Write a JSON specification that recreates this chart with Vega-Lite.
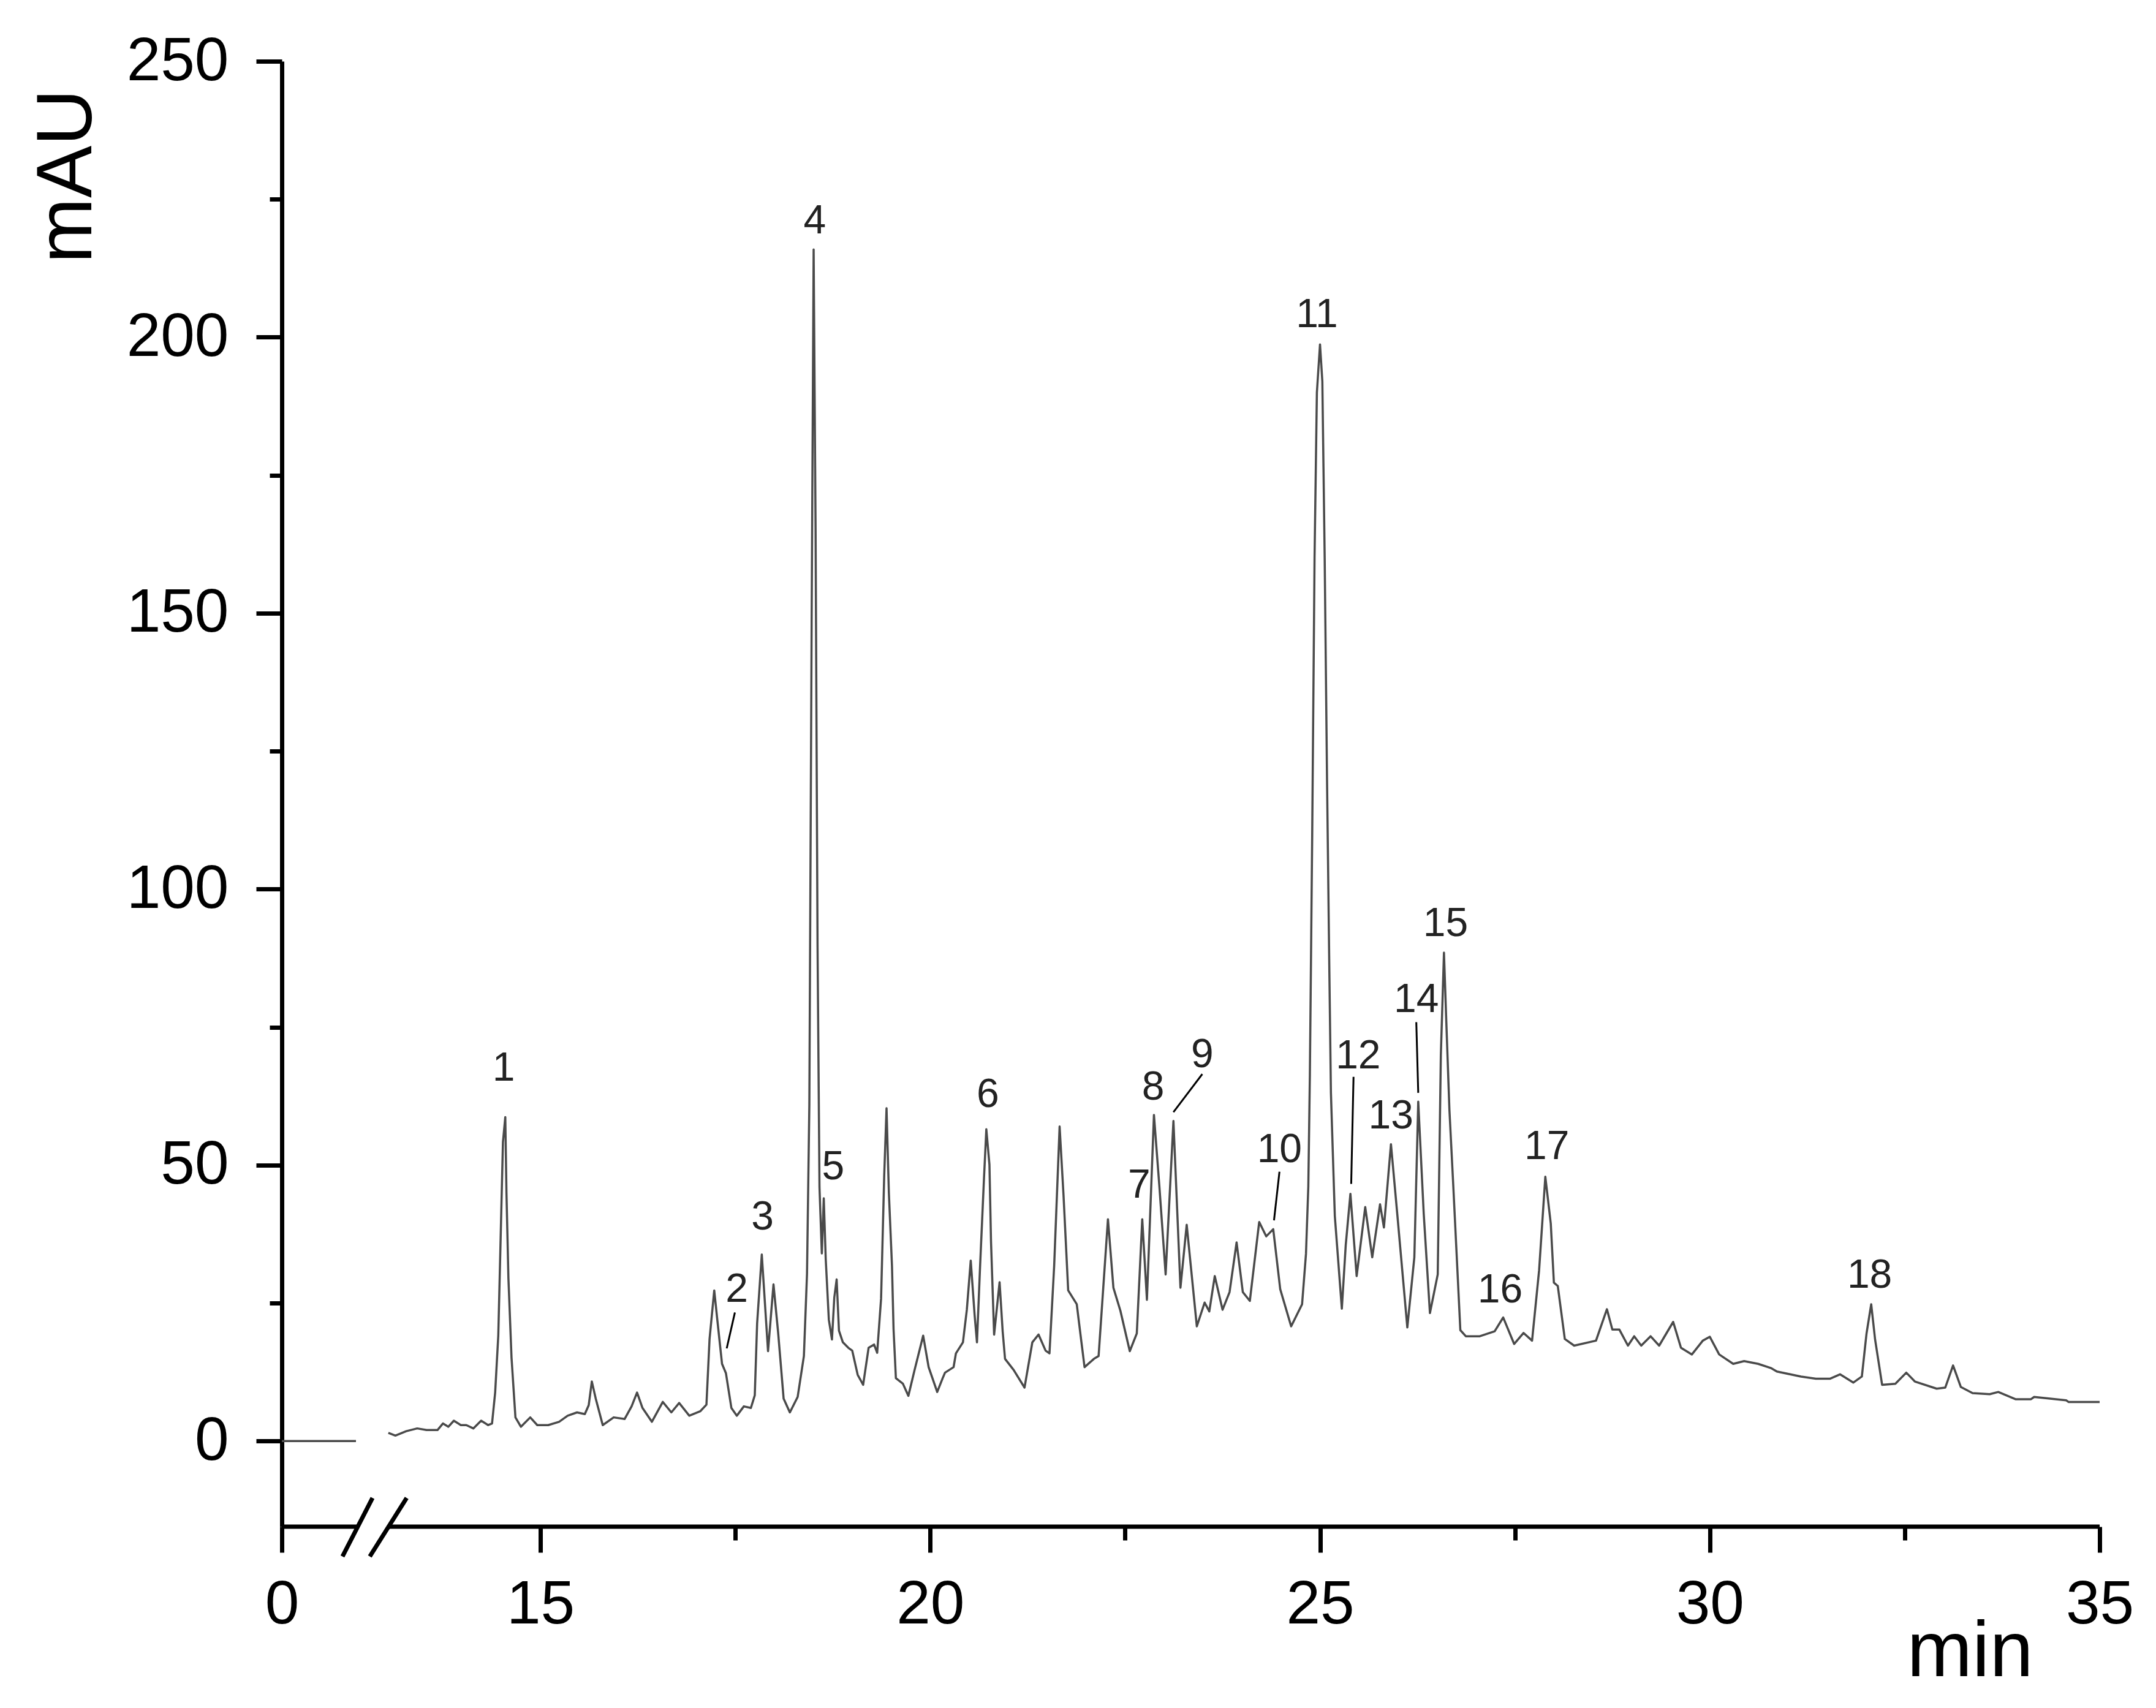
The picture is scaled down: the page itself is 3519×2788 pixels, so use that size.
{
  "$schema": "https://vega.github.io/schema/vega-lite/v6.json",
  "width": 2967,
  "height": 2392,
  "autosize": {"type": "none"},
  "padding": {"left": 460, "top": 100, "right": 92, "bottom": 296},
  "background": "white",
  "config": {
    "view": {"stroke": null},
    "axis": {
      "grid": false,
      "domainColor": "#000000",
      "tickColor": "#000000",
      "labelColor": "#000000",
      "titleColor": "#000000",
      "labelFont": "Liberation Sans",
      "titleFont": "Liberation Sans",
      "titleFontWeight": "normal",
      "domainWidth": 7,
      "tickWidth": 7,
      "labelFlush": false,
      "labelOverlap": false,
      "labelBound": false
    }
  },
  "datasets": {
    "trace": [
      {"t": 0, "v": 0, "s": "a"}, {"t": 1, "v": 0, "s": "a"},
      {"t": 13.05, "v": 1.5, "s": "b"}, {"t": 13.14, "v": 1.0, "s": "b"}, {"t": 13.28, "v": 1.8, "s": "b"}, {"t": 13.42, "v": 2.3, "s": "b"},
      {"t": 13.54, "v": 2.0, "s": "b"}, {"t": 13.68, "v": 2.0, "s": "b"}, {"t": 13.75, "v": 3.2, "s": "b"}, {"t": 13.82, "v": 2.6, "s": "b"},
      {"t": 13.89, "v": 3.7, "s": "b"}, {"t": 13.98, "v": 2.9, "s": "b"}, {"t": 14.05, "v": 2.9, "s": "b"}, {"t": 14.14, "v": 2.3, "s": "b"},
      {"t": 14.24, "v": 3.7, "s": "b"}, {"t": 14.33, "v": 2.9, "s": "b"}, {"t": 14.38, "v": 3.2, "s": "b"}, {"t": 14.42, "v": 8.8, "s": "b"},
      {"t": 14.46, "v": 19.1, "s": "b"}, {"t": 14.49, "v": 36.6, "s": "b"}, {"t": 14.52, "v": 54.2, "s": "b"}, {"t": 14.55, "v": 58.7, "s": "b"},
      {"t": 14.565, "v": 45, "s": "b"}, {"t": 14.59, "v": 29.5, "s": "b"}, {"t": 14.63, "v": 15.1, "s": "b"}, {"t": 14.68, "v": 4.3, "s": "b"},
      {"t": 14.75, "v": 2.6, "s": "b"}, {"t": 14.87, "v": 4.3, "s": "b"}, {"t": 14.96, "v": 2.9, "s": "b"}, {"t": 15.10, "v": 2.9, "s": "b"},
      {"t": 15.24, "v": 3.5, "s": "b"}, {"t": 15.35, "v": 4.6, "s": "b"}, {"t": 15.47, "v": 5.2, "s": "b"}, {"t": 15.57, "v": 4.9, "s": "b"},
      {"t": 15.62, "v": 6.5, "s": "b"}, {"t": 15.66, "v": 10.8, "s": "b"}, {"t": 15.71, "v": 7.7, "s": "b"}, {"t": 15.80, "v": 2.9, "s": "b"},
      {"t": 15.94, "v": 4.3, "s": "b"}, {"t": 16.08, "v": 4.0, "s": "b"}, {"t": 16.17, "v": 6.3, "s": "b"}, {"t": 16.24, "v": 8.8, "s": "b"},
      {"t": 16.31, "v": 6.0, "s": "b"}, {"t": 16.43, "v": 3.5, "s": "b"}, {"t": 16.57, "v": 7.1, "s": "b"}, {"t": 16.68, "v": 5.2, "s": "b"},
      {"t": 16.78, "v": 6.9, "s": "b"}, {"t": 16.91, "v": 4.6, "s": "b"}, {"t": 17.05, "v": 5.4, "s": "b"}, {"t": 17.13, "v": 6.6, "s": "b"},
      {"t": 17.17, "v": 18.5, "s": "b"}, {"t": 17.23, "v": 27.3, "s": "b"}, {"t": 17.27, "v": 21.9, "s": "b"}, {"t": 17.33, "v": 14.0, "s": "b"},
      {"t": 17.38, "v": 12.3, "s": "b"}, {"t": 17.45, "v": 6.0, "s": "b"}, {"t": 17.52, "v": 4.6, "s": "b"}, {"t": 17.61, "v": 6.3, "s": "b"},
      {"t": 17.70, "v": 6.0, "s": "b"}, {"t": 17.75, "v": 8.3, "s": "b"}, {"t": 17.78, "v": 21.3, "s": "b"}, {"t": 17.84, "v": 33.8, "s": "b"},
      {"t": 17.92, "v": 16.3, "s": "b"}, {"t": 17.99, "v": 28.4, "s": "b"}, {"t": 18.05, "v": 19.6, "s": "b"}, {"t": 18.12, "v": 7.7, "s": "b"},
      {"t": 18.20, "v": 5.2, "s": "b"}, {"t": 18.30, "v": 8.0, "s": "b"}, {"t": 18.38, "v": 15.4, "s": "b"}, {"t": 18.42, "v": 30.3, "s": "b"},
      {"t": 18.45, "v": 61, "s": "b"}, {"t": 18.48, "v": 150, "s": "b"}, {"t": 18.505, "v": 215.9, "s": "b"}, {"t": 18.53, "v": 165, "s": "b"},
      {"t": 18.555, "v": 90, "s": "b"}, {"t": 18.58, "v": 46, "s": "b"}, {"t": 18.61, "v": 34, "s": "b"}, {"t": 18.635, "v": 44, "s": "b"},
      {"t": 18.66, "v": 33, "s": "b"}, {"t": 18.70, "v": 22, "s": "b"}, {"t": 18.74, "v": 18.4, "s": "b"}, {"t": 18.77, "v": 26, "s": "b"},
      {"t": 18.80, "v": 29.3, "s": "b"}, {"t": 18.83, "v": 20, "s": "b"}, {"t": 18.88, "v": 17.9, "s": "b"}, {"t": 18.95, "v": 16.9, "s": "b"},
      {"t": 19.00, "v": 16.4, "s": "b"}, {"t": 19.07, "v": 12, "s": "b"}, {"t": 19.14, "v": 10.2, "s": "b"}, {"t": 19.21, "v": 16.9, "s": "b"},
      {"t": 19.28, "v": 17.5, "s": "b"}, {"t": 19.32, "v": 16.0, "s": "b"}, {"t": 19.37, "v": 25.8, "s": "b"}, {"t": 19.41, "v": 48, "s": "b"},
      {"t": 19.44, "v": 60.3, "s": "b"}, {"t": 19.47, "v": 45, "s": "b"}, {"t": 19.51, "v": 31.7, "s": "b"}, {"t": 19.53, "v": 20.3, "s": "b"},
      {"t": 19.56, "v": 11.4, "s": "b"}, {"t": 19.65, "v": 10.4, "s": "b"}, {"t": 19.72, "v": 8.2, "s": "b"}, {"t": 19.80, "v": 12.9, "s": "b"},
      {"t": 19.91, "v": 19.1, "s": "b"}, {"t": 19.98, "v": 13.4, "s": "b"}, {"t": 20.09, "v": 8.9, "s": "b"}, {"t": 20.16, "v": 11.4, "s": "b"},
      {"t": 20.19, "v": 12.4, "s": "b"}, {"t": 20.30, "v": 13.4, "s": "b"}, {"t": 20.33, "v": 15.9, "s": "b"}, {"t": 20.42, "v": 17.9, "s": "b"},
      {"t": 20.47, "v": 23.8, "s": "b"}, {"t": 20.52, "v": 32.7, "s": "b"}, {"t": 20.57, "v": 22.8, "s": "b"}, {"t": 20.60, "v": 17.9, "s": "b"},
      {"t": 20.64, "v": 31.7, "s": "b"}, {"t": 20.69, "v": 47.6, "s": "b"}, {"t": 20.72, "v": 56.5, "s": "b"}, {"t": 20.76, "v": 50.1, "s": "b"},
      {"t": 20.78, "v": 36.2, "s": "b"}, {"t": 20.82, "v": 19.3, "s": "b"}, {"t": 20.89, "v": 28.8, "s": "b"}, {"t": 20.93, "v": 19.8, "s": "b"},
      {"t": 20.96, "v": 14.9, "s": "b"}, {"t": 21.07, "v": 12.9, "s": "b"}, {"t": 21.21, "v": 9.7, "s": "b"}, {"t": 21.31, "v": 17.9, "s": "b"},
      {"t": 21.39, "v": 19.3, "s": "b"}, {"t": 21.48, "v": 16.4, "s": "b"}, {"t": 21.53, "v": 15.9, "s": "b"}, {"t": 21.59, "v": 31.7, "s": "b"},
      {"t": 21.66, "v": 57.0, "s": "b"}, {"t": 21.71, "v": 44.6, "s": "b"}, {"t": 21.77, "v": 27.3, "s": "b"}, {"t": 21.88, "v": 24.8, "s": "b"},
      {"t": 21.94, "v": 17.9, "s": "b"}, {"t": 21.98, "v": 13.4, "s": "b"}, {"t": 22.10, "v": 14.9, "s": "b"}, {"t": 22.16, "v": 15.4, "s": "b"},
      {"t": 22.22, "v": 27.8, "s": "b"}, {"t": 22.28, "v": 40.2, "s": "b"}, {"t": 22.35, "v": 27.8, "s": "b"}, {"t": 22.44, "v": 23.6, "s": "b"},
      {"t": 22.56, "v": 16.3, "s": "b"}, {"t": 22.65, "v": 19.5, "s": "b"}, {"t": 22.72, "v": 40.2, "s": "b"}, {"t": 22.78, "v": 25.6, "s": "b"},
      {"t": 22.87, "v": 59.1, "s": "b"}, {"t": 22.94, "v": 46.1, "s": "b"}, {"t": 23.02, "v": 30.2, "s": "b"}, {"t": 23.12, "v": 58.0, "s": "b"},
      {"t": 23.21, "v": 27.8, "s": "b"}, {"t": 23.29, "v": 39.2, "s": "b"}, {"t": 23.42, "v": 20.8, "s": "b"}, {"t": 23.52, "v": 25.1, "s": "b"},
      {"t": 23.58, "v": 23.5, "s": "b"}, {"t": 23.65, "v": 29.9, "s": "b"}, {"t": 23.75, "v": 23.8, "s": "b"}, {"t": 23.84, "v": 27.0, "s": "b"},
      {"t": 23.93, "v": 36.0, "s": "b"}, {"t": 24.01, "v": 27.0, "s": "b"}, {"t": 24.10, "v": 25.4, "s": "b"}, {"t": 24.22, "v": 39.7, "s": "b"},
      {"t": 24.31, "v": 37.1, "s": "b"}, {"t": 24.40, "v": 38.4, "s": "b"}, {"t": 24.49, "v": 27.5, "s": "b"}, {"t": 24.63, "v": 20.8, "s": "b"},
      {"t": 24.77, "v": 24.8, "s": "b"}, {"t": 24.82, "v": 33.9, "s": "b"}, {"t": 24.85, "v": 46.1, "s": "b"}, {"t": 24.87, "v": 66.3, "s": "b"},
      {"t": 24.90, "v": 110, "s": "b"}, {"t": 24.93, "v": 160, "s": "b"}, {"t": 24.96, "v": 190, "s": "b"}, {"t": 25.00, "v": 198.7, "s": "b"},
      {"t": 25.03, "v": 192, "s": "b"}, {"t": 25.06, "v": 160, "s": "b"}, {"t": 25.09, "v": 120, "s": "b"}, {"t": 25.12, "v": 85, "s": "b"},
      {"t": 25.14, "v": 63.1, "s": "b"}, {"t": 25.19, "v": 40.8, "s": "b"}, {"t": 25.28, "v": 24.0, "s": "b"}, {"t": 25.33, "v": 35.5, "s": "b"},
      {"t": 25.39, "v": 44.8, "s": "b"}, {"t": 25.47, "v": 29.9, "s": "b"}, {"t": 25.58, "v": 42.4, "s": "b"}, {"t": 25.67, "v": 33.3, "s": "b"},
      {"t": 25.77, "v": 42.9, "s": "b"}, {"t": 25.82, "v": 38.7, "s": "b"}, {"t": 25.91, "v": 53.8, "s": "b"}, {"t": 25.99, "v": 41.3, "s": "b"},
      {"t": 26.12, "v": 20.6, "s": "b"}, {"t": 26.21, "v": 33.3, "s": "b"}, {"t": 26.26, "v": 61.5, "s": "b"}, {"t": 26.33, "v": 41.3, "s": "b"},
      {"t": 26.41, "v": 23.2, "s": "b"}, {"t": 26.51, "v": 30.2, "s": "b"}, {"t": 26.55, "v": 70, "s": "b"}, {"t": 26.59, "v": 88.5, "s": "b"},
      {"t": 26.62, "v": 76, "s": "b"}, {"t": 26.66, "v": 60, "s": "b"}, {"t": 26.71, "v": 46.1, "s": "b"}, {"t": 26.80, "v": 20.1, "s": "b"},
      {"t": 26.87, "v": 19.0, "s": "b"}, {"t": 27.05, "v": 19.0, "s": "b"}, {"t": 27.24, "v": 19.9, "s": "b"}, {"t": 27.35, "v": 22.4, "s": "b"},
      {"t": 27.49, "v": 17.6, "s": "b"}, {"t": 27.61, "v": 19.6, "s": "b"}, {"t": 27.72, "v": 18.2, "s": "b"}, {"t": 27.81, "v": 30.9, "s": "b"},
      {"t": 27.89, "v": 47.9, "s": "b"}, {"t": 27.96, "v": 39.4, "s": "b"}, {"t": 28.00, "v": 28.7, "s": "b"}, {"t": 28.05, "v": 28.1, "s": "b"},
      {"t": 28.14, "v": 18.5, "s": "b"}, {"t": 28.26, "v": 17.3, "s": "b"}, {"t": 28.54, "v": 18.2, "s": "b"}, {"t": 28.68, "v": 23.9, "s": "b"},
      {"t": 28.75, "v": 20.2, "s": "b"}, {"t": 28.84, "v": 20.2, "s": "b"}, {"t": 28.95, "v": 17.3, "s": "b"}, {"t": 29.03, "v": 19.0, "s": "b"},
      {"t": 29.12, "v": 17.3, "s": "b"}, {"t": 29.24, "v": 19.0, "s": "b"}, {"t": 29.35, "v": 17.3, "s": "b"}, {"t": 29.53, "v": 21.6, "s": "b"},
      {"t": 29.63, "v": 16.9, "s": "b"}, {"t": 29.77, "v": 15.7, "s": "b"}, {"t": 29.91, "v": 18.2, "s": "b"}, {"t": 30.00, "v": 18.9, "s": "b"},
      {"t": 30.12, "v": 15.7, "s": "b"}, {"t": 30.30, "v": 14.0, "s": "b"}, {"t": 30.44, "v": 14.5, "s": "b"}, {"t": 30.62, "v": 14.0, "s": "b"},
      {"t": 30.79, "v": 13.2, "s": "b"}, {"t": 30.86, "v": 12.6, "s": "b"}, {"t": 31.17, "v": 11.7, "s": "b"}, {"t": 31.36, "v": 11.3, "s": "b"},
      {"t": 31.54, "v": 11.3, "s": "b"}, {"t": 31.67, "v": 12.1, "s": "b"}, {"t": 31.84, "v": 10.6, "s": "b"}, {"t": 31.95, "v": 11.7, "s": "b"},
      {"t": 32.01, "v": 19.5, "s": "b"}, {"t": 32.07, "v": 24.8, "s": "b"}, {"t": 32.12, "v": 18.4, "s": "b"}, {"t": 32.21, "v": 10.2, "s": "b"},
      {"t": 32.38, "v": 10.4, "s": "b"}, {"t": 32.52, "v": 12.4, "s": "b"}, {"t": 32.63, "v": 10.8, "s": "b"}, {"t": 32.91, "v": 9.5, "s": "b"},
      {"t": 33.02, "v": 9.7, "s": "b"}, {"t": 33.12, "v": 13.7, "s": "b"}, {"t": 33.22, "v": 9.8, "s": "b"}, {"t": 33.37, "v": 8.7, "s": "b"},
      {"t": 33.59, "v": 8.5, "s": "b"}, {"t": 33.70, "v": 8.9, "s": "b"}, {"t": 33.92, "v": 7.6, "s": "b"}, {"t": 34.12, "v": 7.6, "s": "b"},
      {"t": 34.16, "v": 8.0, "s": "b"}, {"t": 34.57, "v": 7.4, "s": "b"}, {"t": 34.60, "v": 7.1, "s": "b"}, {"t": 35.00, "v": 7.1, "s": "b"}
    ],
    "labels": [
      {"t": 14.53, "v": 67.5, "label": "1"}, {"t": 17.52, "v": 27.5, "label": "2"}, {"t": 17.85, "v": 40.6, "label": "3"},
      {"t": 18.52, "v": 221, "label": "4"}, {"t": 18.755, "v": 49.6, "label": "5"}, {"t": 20.74, "v": 62.7, "label": "6"},
      {"t": 22.68, "v": 46.3, "label": "7"}, {"t": 22.86, "v": 64.1, "label": "8"}, {"t": 23.49, "v": 70.0, "label": "9"},
      {"t": 24.48, "v": 52.8, "label": "10"}, {"t": 24.96, "v": 204, "label": "11"}, {"t": 25.49, "v": 69.7, "label": "12"},
      {"t": 25.91, "v": 58.9, "label": "13"}, {"t": 26.235, "v": 80.0, "label": "14"}, {"t": 26.61, "v": 93.7, "label": "15"},
      {"t": 27.31, "v": 27.3, "label": "16"}, {"t": 27.91, "v": 53.3, "label": "17"}, {"t": 32.05, "v": 30.0, "label": "18"}
    ],
    "leaders": [
      {"t": 17.495, "v": 23.3, "t2": 17.39, "v2": 16.8},
      {"t": 23.49, "v": 66.5, "t2": 23.12, "v2": 59.6},
      {"t": 24.48, "v": 48.8, "t2": 24.41, "v2": 40.0},
      {"t": 25.43, "v": 66.0, "t2": 25.40, "v2": 46.6},
      {"t": 26.235, "v": 75.9, "t2": 26.26, "v2": 63.1}
    ],
    "axisline": [
      {"t": 0, "t2": 1.75, "v": -15.5},
      {"t": 13.05, "t2": 35, "v": -15.5}
    ],
    "slashes": [
      {"t": 0.818, "v": -20.9, "t2": 7.97, "v2": -10.3},
      {"t": 6.83, "v": -20.9, "t2": 13.285, "v2": -10.3}
    ]
  },
  "layer": [
    {
      "data": {"name": "trace"},
      "mark": {"type": "line", "color": "#4a4a4a", "strokeWidth": 3.5, "strokeJoin": "round"},
      "encoding": {
        "x": {
          "field": "t", "type": "quantitative",
          "scale": {"domain": [0, 1, 13, 35], "range": [0, 121, 167.5, 2967], "nice": false, "zero": false},
          "axis": {
            "orient": "bottom", "values": [0, 15, 20, 25, 30, 35], "domain": false,
            "tickSize": 42, "labelFontSize": 100, "labelPadding": 36,
            "title": "min", "titleFontSize": 128, "titleX": 2755, "titleY": 243,
            "titleAlign": "center", "titleBaseline": "alphabetic"
          }
        },
        "y": {
          "field": "v", "type": "quantitative",
          "scale": {"domain": [-15.5, 250], "nice": false, "zero": false},
          "axis": {
            "orient": "left", "values": [0, 50, 100, 150, 200, 250], "domain": true,
            "tickSize": 42, "labelFontSize": 100, "labelPadding": 45,
            "title": "mAU", "titleFontSize": 128, "titleX": -312, "titleY": 187,
            "titleAngle": 270, "titleAlign": "center", "titleBaseline": "alphabetic"
          }
        },
        "detail": {"field": "s", "type": "nominal"}
      }
    },
    {
      "data": {"name": "leaders"},
      "mark": {"type": "rule", "color": "#000000", "strokeWidth": 3},
      "encoding": {
        "x": {
          "field": "t", "type": "quantitative",
          "scale": {"domain": [0, 1, 13, 35], "range": [0, 121, 167.5, 2967], "nice": false, "zero": false},
          "axis": {"orient": "bottom", "values": [17.5, 22.5, 27.5, 32.5], "labels": false, "domain": false, "tickSize": 22, "title": null}
        },
        "x2": {"field": "t2"},
        "y": {
          "field": "v", "type": "quantitative",
          "scale": {"domain": [-15.5, 250], "nice": false, "zero": false},
          "axis": {"orient": "left", "values": [25, 75, 125, 175, 225], "labels": false, "domain": false, "tickSize": 20, "title": null}
        },
        "y2": {"field": "v2"}
      }
    },
    {
      "data": {"name": "axisline"},
      "mark": {"type": "rule", "color": "#000000", "strokeWidth": 7},
      "encoding": {
        "x": {"field": "t", "type": "quantitative", "scale": {"domain": [0, 1, 13, 35], "range": [0, 121, 167.5, 2967], "nice": false, "zero": false}, "axis": null},
        "x2": {"field": "t2"},
        "y": {"field": "v", "type": "quantitative", "scale": {"domain": [-15.5, 250], "nice": false, "zero": false}, "axis": null}
      }
    },
    {
      "data": {"name": "slashes"},
      "mark": {"type": "rule", "color": "#000000", "strokeWidth": 7},
      "encoding": {
        "x": {"field": "t", "type": "quantitative", "scale": {"domain": [0, 1, 13, 35], "range": [0, 121, 167.5, 2967], "nice": false, "zero": false}, "axis": null},
        "x2": {"field": "t2"},
        "y": {"field": "v", "type": "quantitative", "scale": {"domain": [-15.5, 250], "nice": false, "zero": false}, "axis": null},
        "y2": {"field": "v2"}
      }
    },
    {
      "data": {"name": "labels"},
      "mark": {"type": "text", "font": "Liberation Sans", "fontSize": 66, "color": "#222222", "align": "center", "baseline": "middle"},
      "encoding": {
        "x": {"field": "t", "type": "quantitative", "scale": {"domain": [0, 1, 13, 35], "range": [0, 121, 167.5, 2967], "nice": false, "zero": false}, "axis": null},
        "y": {"field": "v", "type": "quantitative", "scale": {"domain": [-15.5, 250], "nice": false, "zero": false}, "axis": null},
        "text": {"field": "label", "type": "nominal"}
      }
    }
  ],
  "resolve": {"axis": {"x": "independent", "y": "independent"}}
}
